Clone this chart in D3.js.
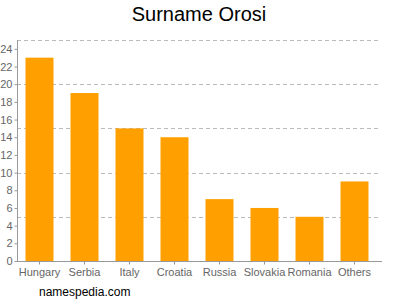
<!DOCTYPE html>
<html><head><meta charset="utf-8">
<script src="https://cdn.jsdelivr.net/npm/d3@7"></script>
<style>body{margin:0;background:#fff}svg{display:block}</style>
</head><body>
<script>
const categories = ["Hungary","Serbia","Italy","Croatia","Russia","Slovakia","Romania","Others"];
const values = [23,19,15,14,7,6,5,9];
const yTicks = [0,2,4,6,8,10,12,14,16,18,20,22,24];
const gridValues = [5,10,15,20,25];

(function(){
const W=400,H=300;
const mLeft=17,mRight=377,mTop=40,mBottom=261;
const svg=d3.select("body").append("svg").attr("width",W).attr("height",H)
  .style("font-family","'Liberation Sans', Arial, sans-serif");

const x=d3.scaleBand().domain(categories).range([mLeft,mRight]).paddingInner(0.378).paddingOuter(0.189);
const y=d3.scaleLinear().domain([0,25]).range([mBottom,mTop]);

svg.append("text").attr("x",199).attr("y",21).attr("text-anchor","middle")
  .attr("font-size",20).attr("fill","#000").text("Surname Orosi");

svg.selectAll("line.grid").data(gridValues).enter().append("line")
  .attr("x1",mLeft).attr("x2",mRight+3).attr("y1",d=>Math.round(y(d))+0.5).attr("y2",d=>Math.round(y(d))+0.5)
  .attr("stroke","#bbb").attr("stroke-dasharray","4,3").attr("stroke-width",1);

svg.selectAll("rect.bar").data(values).enter().append("rect")
  .attr("x",(d,i)=>x(categories[i])).attr("width",x.bandwidth())
  .attr("y",d=>y(d)).attr("height",d=>y(0)-y(d)).attr("fill","#ffa000");

const ya=svg.append("g").attr("transform",`translate(${mLeft+0.5},0)`)
  .call(d3.axisLeft(y).tickValues(yTicks).tickSize(3).tickPadding(2));
ya.select(".domain").attr("stroke","#999").attr("d",`M0,${mTop}V${mBottom}`);
ya.selectAll(".tick line").attr("stroke","#999");
ya.selectAll("text").attr("fill","#666").attr("font-size",11).attr("font-family","'Liberation Sans', Arial, sans-serif");

const xa=svg.append("g").attr("transform",`translate(0,${mBottom+0.5})`)
  .call(d3.axisBottom(x).tickSize(3).tickPadding(4));
xa.select(".domain").attr("stroke","#999").attr("d",`M${mLeft},0H${mRight+5}`);
xa.selectAll(".tick line").attr("stroke","#999");
xa.selectAll("text").attr("fill","#666").attr("font-size",11).attr("font-family","'Liberation Sans', Arial, sans-serif");

svg.append("text").attr("x",39).attr("y",296).attr("font-size",12).attr("fill","#000").text("namespedia.com");
})();
</script>
</body></html>
